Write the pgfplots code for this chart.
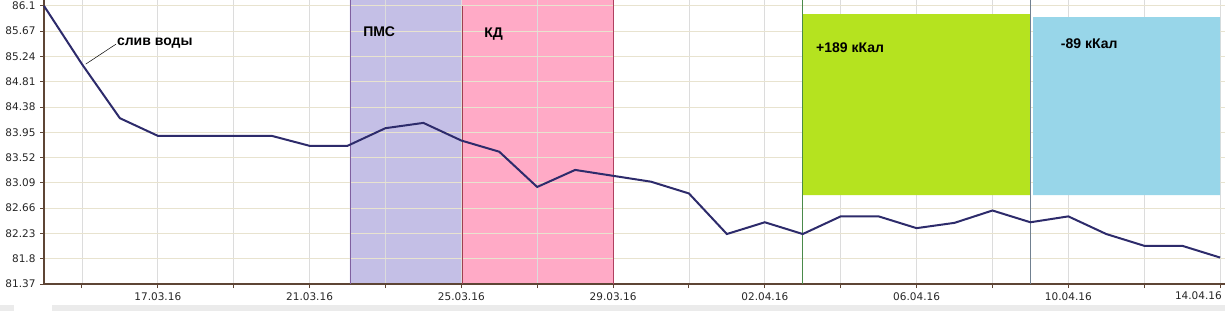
\documentclass[border=0pt]{standalone}
\usepackage{pgfplots}
\pgfplotsset{compat=1.18}
\usepackage{fontspec}
\setmainfont{Liberation Sans}
\newfontfamily\tickfont{DejaVu Sans}
\definecolor{navyline}{HTML}{2D2B6B}
\definecolor{axbrown}{HTML}{5E4535}
\definecolor{pmsfill}{HTML}{C4BFE6}
\definecolor{kdfill}{HTML}{FFAAC6}
\definecolor{grfill}{HTML}{B5E31F}
\definecolor{blfill}{HTML}{98D6E9}
\definecolor{hgrid}{HTML}{E8E3CF}
\definecolor{vgrid}{HTML}{DCDCDC}
\begin{document}
\begin{tikzpicture}
\begin{axis}[
  name=ax, at={(0,0)}, anchor=south west,
  set layers,
  scale only axis,
  width=1181pt, height=284pt,
  xmin=0, xmax=31.13,
  ymin=81.37, ymax=86.2,
  axis x line=bottom, axis y line=left,
  axis line style={-, axbrown, line width=1.8pt},
  xtick={1,3,...,31},
  xticklabels={,17.03.16,,21.03.16,,25.03.16,,29.03.16,,02.04.16,,06.04.16,,10.04.16,,},
  ytick={81.37,81.8,82.23,82.66,83.09,83.52,83.95,84.38,84.81,85.24,85.67,86.1},
  yticklabels={81.37,81.8,82.23,82.66,83.09,83.52,83.95,84.38,84.81,85.24,85.67,86.1},
  tick align=outside,
  major tick length=4pt,
  tick style={axbrown, line width=1pt},
  ticklabel style={font=\tickfont\fontsize{10.5}{12}\selectfont, text=black!85},
  xticklabel style={yshift=-1pt},
  yticklabel style={xshift=-1pt},
  xmajorgrids, ymajorgrids,
  major x grid style={vgrid, line width=0.8pt},
  major y grid style={hgrid, line width=0.8pt},
  clip=false,
]
% shaded periods (behind grid)
\addplot[on layer=axis background, fill=pmsfill, draw=none] coordinates {(8.065,81.37) (11.02,81.37) (11.02,86.2) (8.065,86.2) (8.065,81.37)};
\addplot[on layer=axis background, fill=kdfill, draw=none] coordinates {(11.02,81.37) (15.0,81.37) (15.0,86.2) (11.02,86.2) (11.02,81.37)};
% calorie boxes (above grid)
\addplot[fill=grfill, draw=none] coordinates {(20.0,82.88) (26.0,82.88) (26.0,85.96) (20.0,85.96) (20.0,82.88)};
\addplot[fill=blfill, draw=none] coordinates {(26.07,82.88) (31.0,82.88) (31.0,85.91) (26.07,85.91) (26.07,82.88)};
% period borders
\addplot[color={rgb,255:red,128;green,96;blue,160}, line width=0.8pt] coordinates {(8.065,81.37) (8.065,86.2)};
\addplot[color={rgb,255:red,160;green,64;blue,80}, line width=0.8pt] coordinates {(11.02,81.37) (11.02,86.1)};
\addplot[color={rgb,255:red,176;green,64;blue,96}, line width=0.6pt] coordinates {(15.0,81.37) (15.0,86.2)};
\addplot[color={rgb,255:red,74;green,138;blue,74}, line width=0.6pt] coordinates {(20.0,81.37) (20.0,86.2)};
\addplot[color={rgb,255:red,112;green,128;blue,144}, line width=0.6pt] coordinates {(26.0,81.37) (26.0,86.2)};
% weight series
\addplot[navyline, line width=2pt, mark=none] coordinates {
(0,86.1) (1,85.11) (2,84.19) (3,83.89) (4,83.89) (5,83.89) (6,83.89)
(7,83.72) (8,83.72) (9,84.02) (10,84.11) (11,83.81) (12,83.62) (13,83.02)
(14,83.31) (15,83.21) (16,83.11) (17,82.91) (18,82.22) (19,82.42) (20,82.22)
(21,82.52) (22,82.52) (23,82.32) (24,82.41) (25,82.62) (26,82.42) (27,82.52)
(28,82.22) (29,82.02) (30,82.02) (31,81.82)};
% last date label, right-aligned at the edge
\node[anchor=north east, inner sep=0pt, font=\tickfont\fontsize{10.5}{12}\selectfont, text=black!85] at ([yshift=-8pt]axis cs:31.05,81.37) {14.04.16};
% annotations
\draw[black, line width=0.5pt] (axis cs:1.1,85.11) -- (axis cs:1.9,85.45);
\node[anchor=west, inner sep=0pt, font=\bfseries\fontsize{14}{16}\selectfont] at (axis cs:1.92,85.47) {слив воды};
\node[anchor=west, inner sep=0pt, font=\bfseries\fontsize{14}{16}\selectfont] at (axis cs:8.41,85.66) {ПМС};
\node[anchor=west, inner sep=0pt, font=\bfseries\fontsize{14}{16}\selectfont] at (axis cs:11.6,85.62) {КД};
\node[anchor=west, inner sep=0pt, font=\bfseries\fontsize{14}{16}\selectfont] at (axis cs:20.35,85.39) {+189 кКал};
\node[anchor=west, inner sep=0pt, font=\bfseries\fontsize{14}{16}\selectfont] at (axis cs:26.8,85.45) {-89 кКал};
\end{axis}
% scrollbar strip below the chart
\fill[black!8] ([shift={(-44pt,-27pt)}]ax.south west) rectangle ([shift={(-30pt,-21pt)}]ax.south west);
\fill[black!8] ([shift={(8pt,-27pt)}]ax.south west) rectangle ([shift={(0pt,-21pt)}]ax.south east);
\pgfresetboundingbox
\path ([shift={(-44pt,-31pt)}]ax.south west) rectangle (ax.north east);
\end{tikzpicture}
\end{document}
